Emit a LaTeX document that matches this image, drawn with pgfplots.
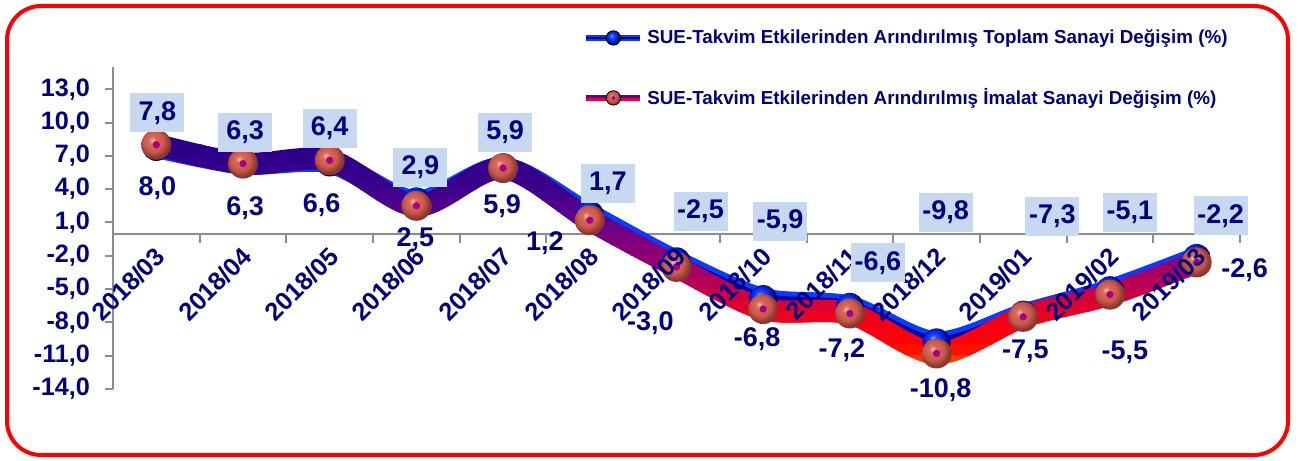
\documentclass[border=0pt]{standalone}
\usepackage{pgfplots}
\pgfplotsset{compat=1.18}
\usepackage{pgfplotstable}
\usepackage{fontspec}
\setmainfont{Liberation Sans}
\definecolor{navy}{RGB}{0,0,128}
\definecolor{boxblue}{RGB}{198,217,241}
\definecolor{axgray}{RGB}{140,140,140}
\definecolor{dotmag}{RGB}{165,0,135}
% sphere colours
\definecolor{rA}{RGB}{245,190,178}
\definecolor{rB}{RGB}{218,108,92}
\definecolor{rC}{RGB}{200,88,74}
\definecolor{rD}{RGB}{140,55,45}
\definecolor{bA}{RGB}{150,185,255}
\definecolor{bB}{RGB}{30,80,255}
\definecolor{bC}{RGB}{0,35,220}
\definecolor{bD}{RGB}{0,0,120}
\pgfdeclareradialshading{redsphere}{\pgfqpoint{-7bp}{8bp}}{color(0bp)=(rA); color(6bp)=(rB); color(17bp)=(rC); color(25bp)=(rD); color(50bp)=(rD)}
\pgfdeclareradialshading{bluesphere}{\pgfqpoint{-7bp}{8bp}}{color(0bp)=(bA); color(6bp)=(bB); color(17bp)=(bC); color(25bp)=(bD); color(50bp)=(bD)}
\pgfdeclareplotmark{redsphere}{\pgfpathcircle{\pgfpointorigin}{\pgfplotmarksize}\pgfshadepath{redsphere}{0}\pgfusepath{}}
\pgfdeclareplotmark{bluesphere}{\pgfpathcircle{\pgfpointorigin}{\pgfplotmarksize}\pgfshadepath{bluesphere}{0}\pgfusepath{}}

\pgfplotstableread{
x y dx dy lab
0 7.8 0.5 17 7,8
1 6.3 1 15.5 6,3
2 6.4 0 17 6,4
3 2.9 2 17 2,9
4 5.9 1 18 5,9
5 1.7 9 15.5 1,7
6 -2.5 12 25 -2,5
7 -5.9 8.5 39 -5,9
8 -6.6 14 22 -6,6
9 -9.8 4.5 65 -9,8
10 -7.3 14.5 49 -7,3
11 -5.1 10 39 -5,1
12 -2.2 12 21 -2,2
}\toplam

\pgfplotstableread{
x y dx dy lab
0 8.0 0.5 -21.5 8,0
1 6.3 1 -22.5 6,3
2 6.6 -4 -22.5 6,6
3 2.5 -0.5 -16.5 2,5
4 5.9 -0.5 -19 5,9
5 1.2 -22.5 -11.5 1,2
6 -3.0 -13 -28 -3,0
7 -6.8 -3 -15 -6,8
8 -7.2 -4 -18.5 -7,2
9 -10.8 2 -18.5 -10,8
10 -7.5 1 -17 -7,5
11 -5.5 7.5 -29 -5,5
12 -2.6 24 -4 -2,6
}\imalat

\newcommand\band[5]{%
  \begin{scope}
    \clip (axis cs:-1,#1) rectangle (axis cs:14,#2);
    \addplot[smooth, line width=11pt, draw={rgb,255:red,#3;green,#4;blue,#5}, forget plot] table[x=x,y=y]{\imalat};
  \end{scope}}

\pgfplotsset{
  common/.style={
    at={(56.5pt,36pt)}, anchor=south west,
    scale only axis, width=563.5pt, height=161pt,
    xmin=-0.5, xmax=12.5, ymin=-14, ymax=15,
    clip=false,
    xtick={0,...,12},
    ticklabel style={font=\bfseries\fontsize{12.6}{14}\selectfont, text=navy},
  }
}

\begin{document}
\begin{tikzpicture}
\useasboundingbox (0,0) rectangle (649pt,230.5pt);
\draw[draw={rgb,255:red,255;green,0;blue,0}, line width=2pt, rounded corners=17pt] (3.5pt,3pt) rectangle (644pt,227.5pt);
\begin{axis}[
  common,
  axis x line=middle, axis y line=left,
  axis line style={-, draw=axgray, line width=1pt},
  xticklabels={},
  minor xtick={-0.5,0.5,...,12.5},
  major x tick style={draw=none},
  minor x tick style={draw=axgray, line width=1pt},
  minor tick length=4.5pt,
  xtick align=outside,
  ytick={-14,-11,...,13},
  ytick align=outside,
  major tick length=4pt,
  y tick style={draw=axgray, line width=1pt},
  yticklabel style={xshift=-4pt, /pgf/number format/.cd, fixed, fixed zerofill, precision=1, use comma, assume math mode=true},
  legend style={at={(0.417,1.13)}, anchor=north west, draw=none, fill=none, row sep=17pt,
     font=\bfseries\fontsize{9.4}{10.5}\selectfont, text=navy, inner sep=0pt},
  legend cell align=left,
]
\addlegendimage{legend image code/.code={
  \draw[line width=3pt, draw={rgb,255:red,0;green,60;blue,255}] (0pt,0pt) -- (27pt,0pt);
  \draw[line width=1pt, draw={rgb,255:red,0;green,0;blue,140}] (0pt,0pt) -- (27pt,0pt);
  \shade[shading=bluesphere] (13.5pt,0pt) circle (3.6pt);}}
\addlegendentry{SUE-Takvim Etkilerinden Arındırılmış Toplam Sanayi Değişim (\%)}
\addlegendimage{legend image code/.code={
  \draw[line width=1.5pt, draw={rgb,255:red,90;green,0;blue,150}] (0pt,0.75pt) -- (27pt,0.75pt);
  \draw[line width=1.5pt, draw={rgb,255:red,230;green,0;blue,60}] (0pt,-0.75pt) -- (27pt,-0.75pt);
  \shade[shading=redsphere] (13.5pt,0pt) circle (3.6pt);
  \fill[dotmag] (13.5pt,0pt) circle (0.8pt);}}
\addlegendentry{SUE-Takvim Etkilerinden Arındırılmış İmalat Sanayi Değişim (\%)}

% Toplam ribbon
\addplot[smooth, line width=11pt, draw={rgb,255:red,10;green,60;blue,255}, forget plot] table[x=x,y=y]{\toplam};
\addplot[smooth, line width=6pt, draw={rgb,255:red,0;green,0;blue,170}, forget plot] table[x=x,y=y]{\toplam};
\addplot[only marks, mark=bluesphere, mark size=7pt, forget plot] table[x=x,y=y]{\toplam};

% Imalat ribbon (vertical gradient in bands)
\band{16}{9}{35}{0}{135}
\band{9}{8}{37}{0}{135}
\band{8}{7}{43}{0}{137}
\band{7}{6}{48}{0}{138}
\band{6}{5}{53}{0}{139}
\band{5}{4}{58}{0}{140}
\band{4}{3}{67}{0}{140}
\band{3}{2}{80}{0}{140}
\band{2}{1}{93}{0}{140}
\band{1}{0}{108}{0}{135}
\band{0}{-1}{122}{0}{128}
\band{-1}{-2}{136}{0}{120}
\band{-2}{-3}{150}{0}{112}
\band{-3}{-4}{166}{0}{100}
\band{-4}{-5}{184}{0}{85}
\band{-5}{-6}{203}{0}{68}
\band{-6}{-7}{222}{0}{48}
\band{-7}{-8}{238}{0}{30}
\band{-8}{-9}{247}{0}{18}
\band{-9}{-10}{255}{0}{10}
\band{-10}{-11}{255}{15}{0}
\band{-11}{-11.6}{255}{55}{0}
\band{-11.6}{-16}{255}{105}{0}

\addplot[only marks, mark=redsphere, mark size=7.5pt, forget plot] table[x=x,y=y]{\imalat};
\addplot[only marks, mark=*, mark size=1.6pt, color=dotmag, forget plot] table[x=x,y=y]{\imalat};
\end{axis}

% category labels and data labels on top of the lines
\begin{axis}[
  common,
  axis x line=middle, axis y line=none,
  axis line style={draw=none},
  ytick=\empty,
  major x tick style={draw=none},
  xticklabels={2018/03,2018/04,2018/05,2018/06,2018/07,2018/08,2018/09,2018/10,2018/11,2018/12,2019/01,2019/02,2019/03},
  xticklabel style={rotate=45, anchor=east, xshift=0pt, yshift=-6.5pt},
]
\addplot[draw=none, forget plot, nodes near coords, point meta=explicit symbolic,
  visualization depends on={\thisrow{dx} \as \labdx},
  visualization depends on={\thisrow{dy} \as \labdy},
  every node near coord/.append style={anchor=center, xshift=\labdx pt, yshift=\labdy pt,
    fill=boxblue, text=navy, font=\bfseries\fontsize{13.5}{15}\selectfont,
    minimum width=27pt, minimum height=19.5pt, inner sep=1pt}]
  table[x=x,y=y,meta=lab]{\toplam};
\addplot[draw=none, forget plot, nodes near coords, point meta=explicit symbolic,
  visualization depends on={\thisrow{dx} \as \labdx},
  visualization depends on={\thisrow{dy} \as \labdy},
  every node near coord/.append style={anchor=center, xshift=\labdx pt, yshift=\labdy pt,
    text=navy, font=\bfseries\fontsize{13.5}{15}\selectfont, inner sep=1pt}]
  table[x=x,y=y,meta=lab]{\imalat};
\end{axis}
\end{tikzpicture}
\end{document}
